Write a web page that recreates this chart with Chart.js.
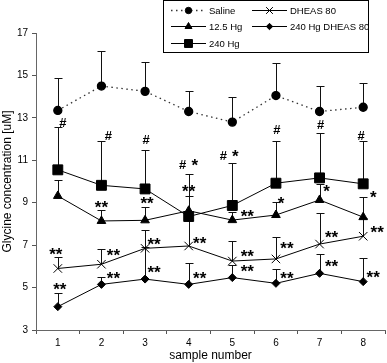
<!DOCTYPE html>
<html>
<head>
<meta charset="utf-8">
<script src="https://cdn.jsdelivr.net/npm/chart.js@4/dist/chart.umd.min.js"></script>
<style>
  html, body { margin: 0; padding: 0; background: #fff; overflow: hidden; }
  canvas { display: block; }
</style>
</head>
<body>
<canvas id="glycineChart" width="387" height="363"></canvas>
<script>
(function () {
  'use strict';

  // data
  const sampleLabels = ['1', '2', '3', '4', '5', '6', '7', '8'];
  const yTicks = [3, 5, 7, 9, 11, 13, 15, 17];

  const salineMean = [13.35, 14.5, 14.25, 13.3, 12.8, 14.05, 13.3, 13.5];
  const salineTop = [14.9, 16.17, 15.64, 14.25, 14.0, 15.6, 14.5, 14.65];

  const hg125Mean = [9.32, 8.14, 8.17, 8.62, 8.18, 8.42, 9.13, 8.32];
  const hg125Top = [10.05, 8.66, 8.8, 9.3, 8.55, 9.05, 9.9, 9.25];
  const hg125Sig = ['', '**', '**', '**', '**', '*', '*', '*'];

  const hg240Mean = [10.55, 9.82, 9.65, 8.35, 8.87, 9.92, 10.17, 9.89];
  const hg240Top = [12.55, 11.93, 11.5, 10.35, 10.88, 11.9, 12.28, 11.9];
  const hg240Sig = ['#', '#', '#', '# *', '# *', '#', '#', '#'];

  const dheasMean = [5.9, 6.1, 6.85, 6.96, 6.25, 6.35, 7.05, 7.42];
  const dheasTop = [6.46, 6.8, 7.7, 8.2, 7.2, 7.37, 8.5, 8.3];
  const dheasSig = ['**', '**', '**', '**', '**', '**', '**', '**'];

  const hgDheasMean = [4.1, 5.15, 5.4, 5.15, 5.47, 5.2, 5.67, 5.28];
  const hgDheasTop = [4.75, 5.5, 6.9, 6.15, 6.07, 5.88, 6.57, 6.38];
  const hgDheasSig = ['**', '**', '**', '**', '**', '**', '**', '**'];

  // where each mark sits: [dx, dy, anchor] ('top' = error cap, 'mid' = mean)
  const sigPlace = {
    '12.5 Hg': [null, [0, -5, 'top'], [2, -6, 'top'], [0, -8, 'top'], [15, -7, 'mid'], [5, -15, 'mid'], [7, -11, 'mid'], [10, -23, 'mid']],
    '240 Hg': [[5, -5, 'top'], [7, -5, 'top'], [1, -10, 'top'], [0, -10, 'top'], [-3, -7, 'top'], [1, -12, 'top'], [1, -9, 'top'], [-2, -6, 'top']],
    'DHEAS 80': [[-2, -5, 'top'], [12, -12, 'mid'], [9, -7, 'mid'], [11, -5, 'mid'], [15, -8, 'mid'], [11, -13, 'mid'], [12, -10, 'mid'], [14, -7, 'mid']],
    '240 Hg DHEAS 80': [[2, -6, 'top'], [12, -9, 'mid'], [9, -10, 'mid'], [11, -9, 'mid'], [15, -9, 'mid'], [11, -8, 'mid'], [12, -10, 'mid'], [10, -7, 'mid']]
  };

  const FONT = '"Liberation Sans", Arial, sans-serif';
  const ink = '#000';

  const datasets = [
    {
      label: 'Saline', data: salineMean, errTop: salineTop, sig: null,
      borderColor: '#333', borderWidth: 1.3, borderDash: [1.5, 3.5],
      pointStyle: 'circle', pointRadius: 4, pointBackgroundColor: ink, pointBorderColor: ink
    },
    {
      label: '12.5 Hg', data: hg125Mean, errTop: hg125Top, sig: hg125Sig,
      borderColor: ink, borderWidth: 1,
      pointStyle: 'triangle', pointRadius: 5, pointBackgroundColor: ink, pointBorderColor: ink
    },
    {
      label: '240 Hg', data: hg240Mean, errTop: hg240Top, sig: hg240Sig,
      borderColor: ink, borderWidth: 1,
      pointStyle: 'rect', pointRadius: 7, pointBackgroundColor: ink, pointBorderColor: ink
    },
    {
      label: 'DHEAS 80', data: dheasMean, errTop: dheasTop, sig: dheasSig,
      borderColor: ink, borderWidth: 1,
      pointStyle: 'crossRot', pointRadius: 6, pointBorderWidth: 1, pointBackgroundColor: ink, pointBorderColor: ink
    },
    {
      label: '240 Hg DHEAS 80', data: hgDheasMean, errTop: hgDheasTop, sig: hgDheasSig,
      borderColor: ink, borderWidth: 1,
      pointStyle: 'rectRot', pointRadius: 4, pointBackgroundColor: ink, pointBorderColor: ink
    }
  ];
  datasets.forEach(d => { d.tension = 0; d.fill = false; d.clip = false; });

  const errorBars = {
    id: 'errorBars',
    beforeDatasetsDraw(chart) {
      const ctx = chart.ctx;
      const xs = chart.scales.x, ys = chart.scales.y;
      ctx.save();
      ctx.strokeStyle = '#111';
      ctx.lineWidth = 1;
      chart.data.datasets.forEach(ds => {
        ds.data.forEach((v, i) => {
          const x = Math.round(xs.getPixelForValue(i)) + 0.5;
          const y0 = ys.getPixelForValue(v);
          const y1 = Math.round(ys.getPixelForValue(ds.errTop[i])) + 0.5;
          ctx.beginPath();
          ctx.moveTo(x, y0);
          ctx.lineTo(x, y1);
          ctx.moveTo(x - 4, y1);
          ctx.lineTo(x + 4, y1);
          ctx.stroke();
        });
      });
      ctx.restore();
    }
  };

  function centerText(ctx, txt, cx, cy) {
    const m = ctx.measureText(txt);
    const asc = m.actualBoundingBoxAscent || 0;
    const desc = m.actualBoundingBoxDescent || 0;
    ctx.fillText(txt, cx, cy + (asc - desc) / 2);
  }

  const sigMarks = {
    id: 'sigMarks',
    afterDatasetsDraw(chart) {
      const ctx = chart.ctx;
      const xs = chart.scales.x, ys = chart.scales.y;
      ctx.save();
      ctx.fillStyle = ink;
      ctx.textAlign = 'center';
      ctx.textBaseline = 'alphabetic';
      chart.data.datasets.forEach(ds => {
        if (!ds.sig) return;
        const place = sigPlace[ds.label];
        ds.sig.forEach((txt, i) => {
          if (!txt || !place[i]) return;
          const [dx, dy, anchor] = place[i];
          const x = xs.getPixelForValue(i) + dx;
          const y = ys.getPixelForValue(anchor === 'top' ? ds.errTop[i] : ds.data[i]) + dy;
          if (txt.indexOf('#') >= 0) {
            // "#" and "# *" marks
            const parts = txt.split(' ');
            ctx.font = 'bold 13px ' + FONT;
            if (parts.length === 1) {
              centerText(ctx, '#', x, y);
            } else {
              centerText(ctx, '#', x - 6, y);
              ctx.font = 'bold 17px ' + FONT;
              centerText(ctx, parts[1], x + 6, y - 2);
            }
          } else {
            ctx.font = 'bold 17px ' + FONT;
            centerText(ctx, txt, x, y);
          }
        });
      });
      ctx.restore();
    }
  };

  const boxLegend = {
    id: 'boxLegend',
    afterDraw(chart) {
      const ctx = chart.ctx;
      const H = Chart.helpers;
      ctx.save();
      ctx.strokeStyle = ink;
      ctx.lineWidth = 1;
      ctx.strokeRect(163.5, 0.5, 205, 52);

      // one slot per dataset, in dataset order
      const slots = [
        { x1: 171, x2: 206, y: 10 },
        { x1: 171, x2: 206, y: 26 },
        { x1: 171, x2: 206, y: 43 },
        { x1: 252, x2: 287, y: 10 },
        { x1: 252, x2: 287, y: 26 }
      ];
      ctx.font = '9.5px ' + FONT;
      ctx.textBaseline = 'middle';
      ctx.textAlign = 'left';
      chart.data.datasets.forEach((ds, i) => {
        const s = slots[i];
        ctx.save();
        ctx.strokeStyle = ds.borderColor;
        ctx.lineWidth = ds.borderWidth;
        ctx.setLineDash(ds.borderDash || []);
        ctx.beginPath();
        ctx.moveTo(s.x1, s.y + 0.5);
        ctx.lineTo(s.x2, s.y + 0.5);
        ctx.stroke();
        ctx.restore();
        const mx = (s.x1 + s.x2) / 2;
        ctx.fillStyle = ink;
        ctx.strokeStyle = ink;
        if (H && H.drawPoint) {
          H.drawPoint(ctx, {
            pointStyle: ds.pointStyle,
            radius: ds.pointRadius * 0.8,
            borderWidth: ds.pointBorderWidth || 1,
            rotation: 0
          }, mx, s.y + 0.5);
        }
        ctx.fillStyle = ink;
        ctx.fillText(ds.label, s.x2 + 3, s.y + 1);
      });
      ctx.restore();
    }
  };

  const ctx = document.getElementById('glycineChart').getContext('2d');
  new Chart(ctx, {
    type: 'line',
    data: { labels: sampleLabels, datasets: datasets },
    options: {
      responsive: false,
      animation: false,
      layout: { autoPadding: false, padding: { top: 33, right: 2, left: 0, bottom: 0 } },
      plugins: {
        legend: { display: false },
        tooltip: { enabled: false },
        title: { display: false }
      },
      scales: {
        x: {
          type: 'category',
          offset: true,
          afterFit: s => { s.height = 33; },
          grid: { display: true, drawOnChartArea: false, offset: true, tickLength: 4, color: '#555' },
          border: { color: '#666' },
          ticks: { color: ink, font: { family: FONT, size: 10 }, padding: 3, maxRotation: 0 },
          title: { display: true, text: 'sample number', color: ink, font: { family: FONT, size: 12 }, padding: 0 }
        },
        y: {
          min: 3,
          max: 17,
          afterFit: s => { s.width = 36; },
          afterBuildTicks: s => { s.ticks = yTicks.map(v => ({ value: v })); },
          grid: { display: true, drawOnChartArea: false, tickLength: 4, color: '#555' },
          border: { color: '#666' },
          ticks: { color: ink, font: { family: FONT, size: 10 }, padding: 4 },
          title: { display: true, text: 'Glycine concentration [uM]', color: ink, font: { family: FONT, size: 12 }, padding: 0 }
        }
      }
    },
    plugins: [errorBars, sigMarks, boxLegend]
  });
})();
</script>
</body>
</html>
